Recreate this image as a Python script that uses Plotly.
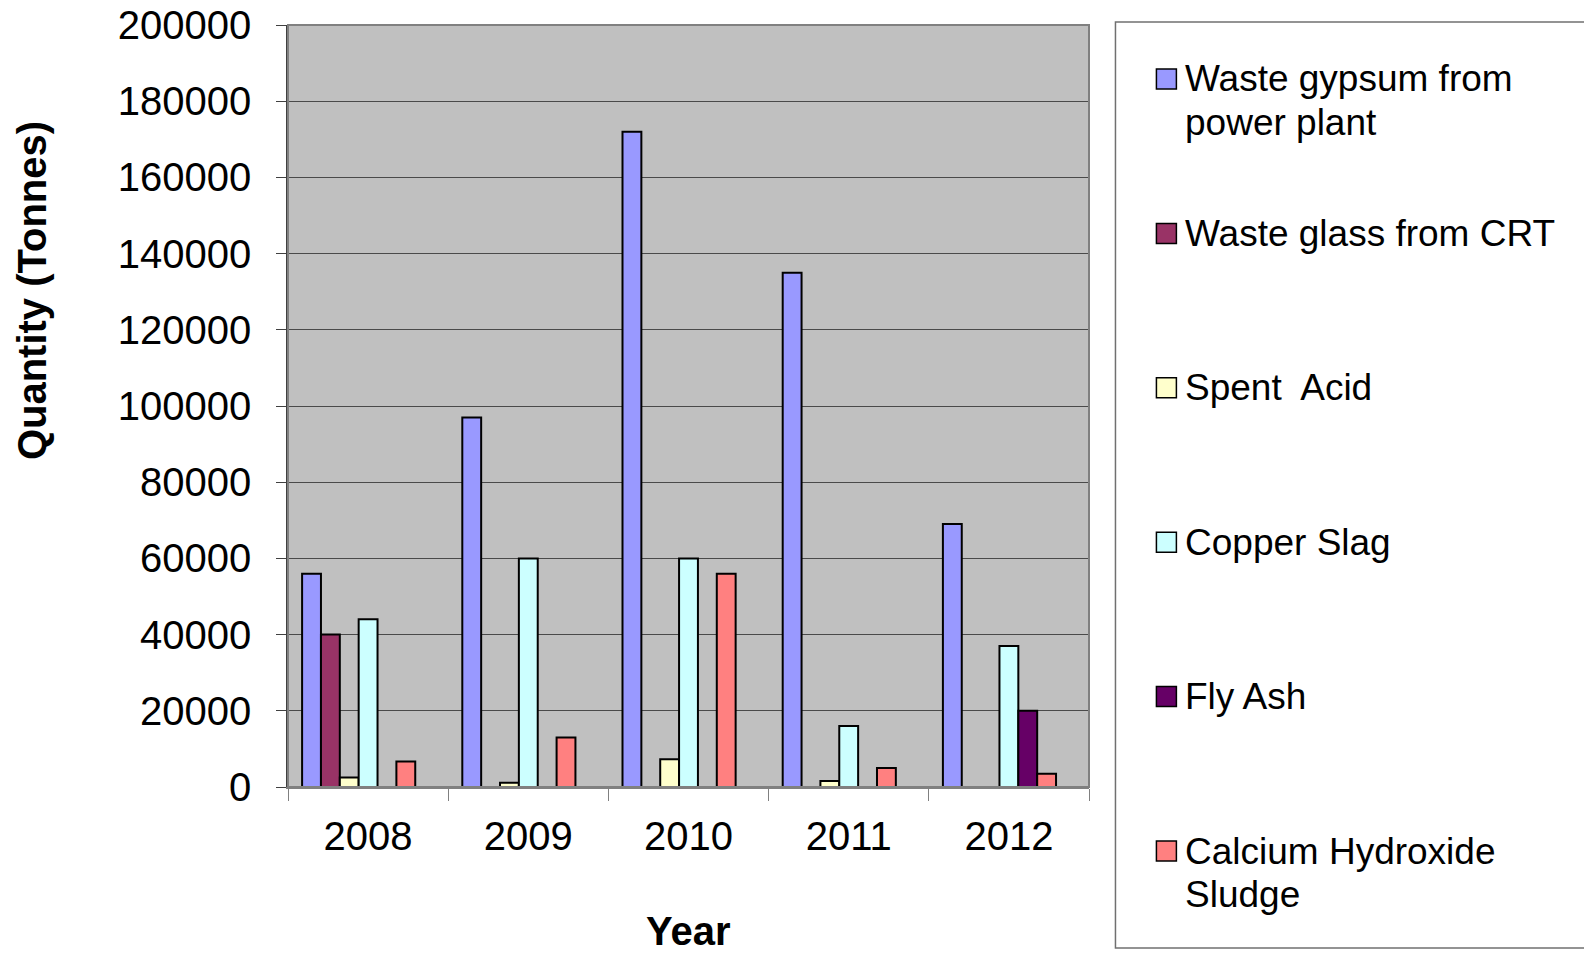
import plotly.graph_objects as go

years = ["2008", "2009", "2010", "2011", "2012"]
series_names = [
    "Waste gypsum from<br>power plant",
    "Waste glass from CRT",
    "Spent  Acid",
    "Copper Slag",
    "Fly Ash",
    "Calcium Hydroxide<br>Sludge",
]
gypsum = [56000, 97000, 172000, 135000, 69000]
crt_glass = [40000, None, None, None, None]
spent_acid = [2500, 1100, 7300, 1600, None]
copper_slag = [44000, 60000, 60000, 16000, 37000]
fly_ash = [None, None, None, None, 20000]
calcium = [6700, 13000, 56000, 5000, 3500]
empty_slot = [0, 0, 0, 0, 0]

y_ticks = [0, 20000, 40000, 60000, 80000, 100000, 120000, 140000, 160000, 180000, 200000]

colors = ["#9999FF", "#993366", "#FFFFCC", "#CCFFFF", "#660066", "#FF8080"]
values = [gypsum, crt_glass, spent_acid, copper_slag, fly_ash, calcium]

FONT = "Arial, Liberation Sans, Helvetica, sans-serif"

# plot-area geometry (pixels) used to place paper-referenced decorations
W, H = 1584, 953
PL, PR, PT, PB = 287.5, 1089.5, 25, 787


def xp(px):
    return (px - PL) / (PR - PL)


def yp(py):
    return (PB - py) / (PB - PT)


fig = go.Figure()
for i, (name, vals, col) in enumerate(zip(series_names, values, colors)):
    fig.add_trace(go.Bar(
        x=years, y=vals, name=name.replace("<br>", " "),
        marker=dict(color=col, line=dict(color="black", width=2)),
        showlegend=False,
    ))
# empty seventh series slot (as in the original spreadsheet chart)
fig.add_trace(go.Bar(
    x=years, y=empty_slot, showlegend=False, hoverinfo="skip",
    marker=dict(color="rgba(0,0,0,0)", line=dict(width=0)),
))

shapes = [
    dict(type="rect", xref="paper", yref="paper", x0=0, x1=1, y0=0, y1=1,
         line=dict(color="#808080", width=2), layer="above"),
    dict(type="rect", xref="paper", yref="paper", x0=xp(1116), x1=xp(1620),
         y0=yp(948), y1=yp(22), line=dict(color="#707070", width=1.5), layer="below"),
]
annotations = [
    dict(text="<b>Quantity (Tonnes)</b>", xref="paper", yref="paper",
         x=xp(31.3), y=yp(291), xanchor="center", yanchor="middle",
         textangle=-90, showarrow=False,
         font=dict(family=FONT, size=40, color="black")),
    dict(text="<b>Year</b>", xref="paper", yref="paper",
         x=0.5, y=yp(931), xanchor="center", yanchor="middle",
         showarrow=False,
         font=dict(family=FONT, size=40, color="black")),
]

# legend (drawn as boxed key, matching the original spreadsheet layout)
LEG_Y0, LEG_STEP, LINE_STEP = 79, 154.4, 43
for i, (name, col) in enumerate(zip(series_names, colors)):
    yc = LEG_Y0 + LEG_STEP * i
    shapes.append(dict(type="rect", xref="paper", yref="paper",
                       x0=xp(1157), x1=xp(1177), y0=yp(yc + 10), y1=yp(yc - 10),
                       fillcolor=col, line=dict(color="black", width=1.5)))
    for j, line in enumerate(name.split("<br>")):
        annotations.append(dict(text=line, xref="paper", yref="paper",
                                x=xp(1184), y=yp(yc + LINE_STEP * j),
                                xanchor="left", yanchor="middle", showarrow=False,
                                font=dict(family=FONT, size=37, color="black")))

fig.update_layout(
    width=W, height=H,
    margin=dict(l=PL, r=W - PR, t=PT, b=H - PB, autoexpand=False),
    paper_bgcolor="white",
    plot_bgcolor="#C0C0C0",
    barmode="group",
    bargap=0.176,
    bargroupgap=0,
    font=dict(family=FONT, size=40, color="black"),
    showlegend=False,
    xaxis=dict(
        type="category",
        showgrid=False,
        showline=True, linecolor="#808080", linewidth=1.5,
        ticks="outside", tickson="boundaries", ticklen=12, tickcolor="#808080", tickwidth=1,
        tickfont=dict(family=FONT, size=40, color="black"),
        ticklabelstandoff=13,
    ),
    yaxis=dict(
        range=[0, 200000],
        tickvals=y_ticks,
        tickformat="d",
        showgrid=True, gridcolor="#4a4a4a", gridwidth=1,
        showline=True, linecolor="#404040", linewidth=1.5,
        ticks="outside", ticklen=10, tickcolor="#404040", tickwidth=1,
        tickfont=dict(family=FONT, size=40, color="black"),
        ticklabelstandoff=17,
        zeroline=False,
    ),
    shapes=shapes,
    annotations=annotations,
)

fig.write_html("out.html", config={"displayModeBar": False},
               post_script="document.body.style.margin='0';")
